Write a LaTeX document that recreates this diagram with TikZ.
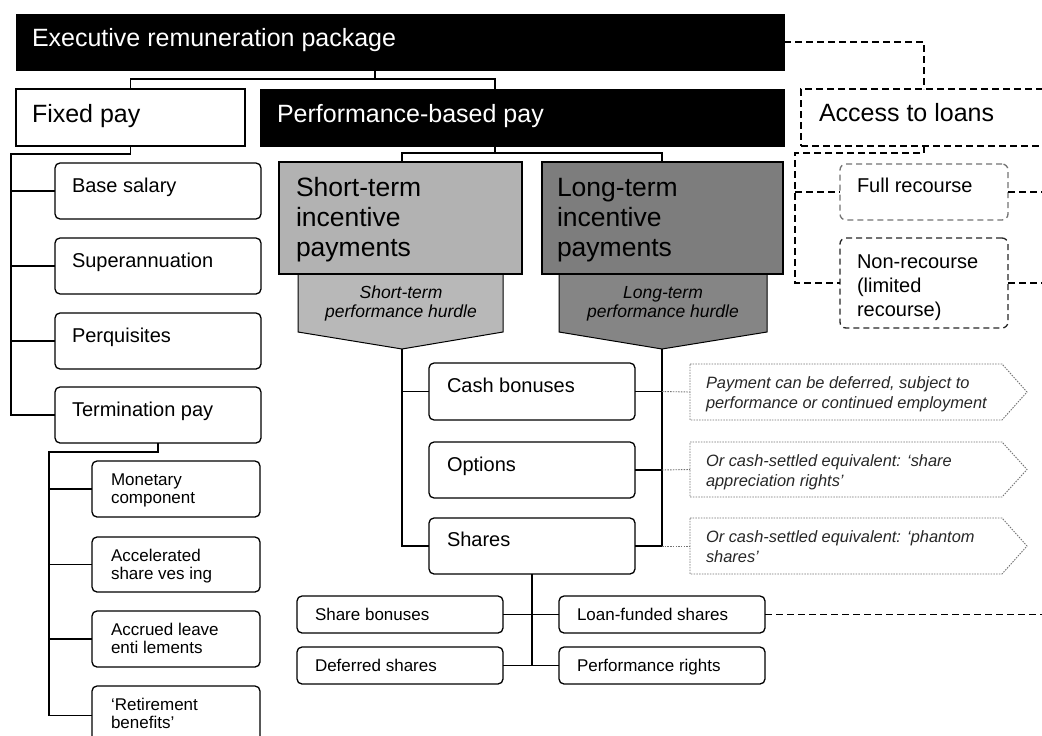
\documentclass[tikz,border=0pt]{standalone}
\usepackage{fontspec}
\setmainfont{Liberation Sans}
\usetikzlibrary{calc}
\definecolor{stgray}{HTML}{B2B2B2}
\definecolor{sthgray}{HTML}{B8B8B8}
\definecolor{ltgray}{HTML}{7D7D7D}
\definecolor{lthgray}{HTML}{858585}
\newcommand\ml[1]{\begin{tabular}[t]{@{}l@{}}#1\end{tabular}}
\newcommand\mcen[1]{\begin{tabular}[t]{@{}c@{}}#1\end{tabular}}
\newcommand\boxat[6]{\node[#1, minimum width={(#5)-(#3)}, minimum height={(#6)-(#4)}, anchor=north west] (#2) at (#3,#4) {};}
\tikzset{
  blk/.style={draw=black, fill=black, line width=1pt, inner sep=0, outer sep=0},
  wbox/.style={draw=black, fill=white, line width=1.3pt, inner sep=0, outer sep=0},
  rbox/.style={draw=black, fill=white, line width=1.3pt, rounded corners=5pt, inner sep=0, outer sep=0},
  dbox/.style={draw=black, line width=1.3pt, dash pattern=on 7pt off 4pt, inner sep=0, outer sep=0},
  frbox/.style={draw=black!55, line width=1.3pt, dash pattern=on 6pt off 4pt, rounded corners=6pt, inner sep=0, outer sep=0},
  nrbox/.style={draw=black!85, line width=1.3pt, dash pattern=on 6pt off 4pt, rounded corners=6pt, inner sep=0, outer sep=0},
  stbox/.style={draw=black, fill=stgray, line width=1.3pt, inner sep=0, outer sep=0},
  ltbox/.style={draw=black, fill=ltgray, line width=1.3pt, inner sep=0, outer sep=0},
  notebox/.style={inner sep=0, outer sep=0},
  noteline/.style={draw=black!55, line width=0.9pt, dash pattern=on 1.5pt off 1.2pt},
  conn/.style={line width=1.3pt, black},
  dconn/.style={line width=1.3pt, black, dash pattern=on 7pt off 4pt},
  dotc/.style={line width=0.9pt, black!55, dash pattern=on 1.5pt off 1.2pt},
  txt/.style={anchor=base west, inner sep=0, outer sep=0},
  bigf/.style={font=\fontsize{25}{30}\selectfont},
  hugef/.style={font=\fontsize{26.5}{30}\selectfont},
  medf/.style={font=\fontsize{20}{24}\selectfont},
  smf/.style={font=\fontsize{17}{18}\selectfont},
  notef/.style={font=\fontsize{16.4}{20}\selectfont\itshape, text=black!85},
  hurf/.style={font=\fontsize{17.5}{19}\selectfont\itshape},
}
\begin{document}
\begin{tikzpicture}[x=1pt,y=-1pt]
\useasboundingbox (0,0) rectangle (1042,736);
\clip (0,0) rectangle (1042,736);

% ---------- top row ----------
\boxat{blk}{exec}{16}{14}{784}{70}
\node[txt,bigf,text=white] (exec-t) at (32,46) {Executive remuneration package};
\boxat{wbox}{fixed}{16}{89}{245}{146}
\node[txt,bigf] (fixed-t) at (32,122) {Fixed pay};
\boxat{blk}{perf}{260}{89}{784}{146}
\node[txt,bigf,text=white] (perf-t) at (277,122) {Performance-based pay};
\boxat{dbox}{access}{801}{89}{1075}{146}
\node[txt,bigf] (access-t) at (819,121) {Access to loans};

\draw[conn] (375,0 |- exec.south) -- (375,79) -| (fixed.north);
\draw[conn] (375,79) -| (495,0 |- perf.north);

% ---------- fixed pay ----------
\boxat{rbox}{base}{55}{163}{261}{219}
\node[txt,medf] (base-t) at (72,192) {Base salary};
\boxat{rbox}{super}{55}{238}{261}{294}
\node[txt,medf] (super-t) at (72,267) {Superannuation};
\boxat{rbox}{perq}{55}{313}{261}{369}
\node[txt,medf] (perq-t) at (72,342) {Perquisites};
\boxat{rbox}{term}{55}{387}{261}{443}
\node[txt,medf] (term-t) at (72,416) {Termination pay};

\draw[conn] (fixed.south) |- (11,154) |- (term.west);
\draw[conn] (11,0 |- base.west) -- (base.west);
\draw[conn] (11,0 |- super.west) -- (super.west);
\draw[conn] (11,0 |- perq.west) -- (perq.west);

\boxat{rbox}{mon}{92}{461}{260}{517}
\node[txt,smf] (mon-t) at (111,485) {\ml{Monetary\\component}};
\boxat{rbox}{accel}{92}{537}{260}{592}
\node[txt,smf] (accel-t) at (111,561) {\ml{Accelerated\\share ves ing}};
\boxat{rbox}{accr}{92}{611}{260}{667}
\node[txt,smf] (accr-t) at (111,635) {\ml{Accrued leave\\enti lements}};
\boxat{rbox}{retire}{92}{686}{260}{745}
\node[txt,smf] (retire-t) at (111,710) {\ml{‘Retirement\\benefits’}};

\draw[conn] (term.south) |- (49,452) |- (retire.west);
\draw[conn] (49,0 |- mon.west) -- (mon.west);
\draw[conn] (49,0 |- accel.west) -- (accel.west);
\draw[conn] (49,0 |- accr.west) -- (accr.west);

% ---------- incentive payments ----------
\coordinate (sth-tip) at (402,349);
\coordinate (lth-tip) at (662,349);
\draw[line width=1pt, fill=sthgray] (298,274) -- (298,332) -- (sth-tip) -- (503,332) -- (503,274);
\draw[line width=1pt, fill=lthgray] (559,274) -- (559,332) -- (lth-tip) -- (767,332) -- (767,274);
\node[hurf, inner sep=0, anchor=base] (sth-t) at (401,298) {\mcen{Short-term\\performance hurdle}};
\node[hurf, inner sep=0, anchor=base] (lth-t) at (663,298) {\mcen{Long-term\\performance hurdle}};

\boxat{stbox}{st}{279}{162}{522}{274}
\node[txt,hugef] (st-t) at (296,196) {\ml{Short-term\\incentive\\payments}};
\boxat{ltbox}{lt}{542}{162}{783}{274}
\node[txt,hugef] (lt-t) at (557,196) {\ml{Long-term\\incentive\\payments}};

\draw[conn] (495,0 |- perf.south) |- (402,153) -- (402,0 |- st.north);
\draw[conn] (495,153) -| (662,0 |- lt.north);

% ---------- cash / options / shares ----------
\boxat{rbox}{cash}{429}{363}{635}{420}
\node[txt,medf] (cash-t) at (447,392) {Cash bonuses};
\boxat{rbox}{opt}{429}{442}{635}{498}
\node[txt,medf] (opt-t) at (447,471) {Options};
\boxat{rbox}{shares}{429}{518}{635}{574}
\node[txt,medf] (shares-t) at (447,546) {Shares};

\draw[conn] (sth-tip) |- (shares.west);
\draw[conn] (402,0 |- cash.west) -- (cash.west);
\draw[conn] (lth-tip) |- (shares.east);
\draw[conn] (662,0 |- cash.east) -- (cash.east);
\draw[conn] (662,0 |- opt.east) -- (opt.east);

% ---------- notes ----------
\boxat{notebox}{n1}{690}{364}{1002}{420}
\boxat{notebox}{n2}{690}{442}{1002}{497}
\boxat{notebox}{n3}{690}{518}{1002}{574}
\foreach \n in {n1,n2,n3}{
  \draw[noteline] (\n.north west) -- (\n.north east) -- ($(\n.east)+(25,0)$) -- (\n.south east) -- (\n.south west) -- cycle;
}
\node[txt,notef] (n1-t) at (706,388) {\ml{Payment can be deferred, subject to\\performance or continued employment}};
\node[txt,notef] (n2-t) at (706,466) {\ml{Or cash-settled equivalent: ‘share\\appreciation rights’}};
\node[txt,notef] (n3-t) at (706,542) {\ml{Or cash-settled equivalent: ‘phantom\\shares’}};
\draw[dotc] (662,0 |- cash.east) -- (n1.west);
\draw[dotc] (662,0 |- opt.east) -- (n2.west);
\draw[dotc] (662,0 |- shares.east) -- (n3.west);

% ---------- share types ----------
\boxat{rbox}{sbon}{297}{596}{503}{633}
\node[txt,smf] (sbon-t) at (315,620) {Share bonuses};
\boxat{rbox}{defs}{297}{647}{503}{684}
\node[txt,smf] (defs-t) at (315,671) {Deferred shares};
\boxat{rbox}{loanf}{559}{596}{765}{633}
\node[txt,smf] (loanf-t) at (577,620) {Loan-funded shares};
\boxat{rbox}{perfr}{559}{647}{765}{684}
\node[txt,smf] (perfr-t) at (577,671) {Performance rights};

\draw[conn] (shares.south) -- (shares.south |- defs.east);
\draw[conn] (sbon.east) -- (loanf.west);
\draw[conn] (defs.east) -- (perfr.west);

% ---------- loans ----------
\boxat{frbox}{fullr}{840}{164}{1008}{220}
\node[txt,medf] (fullr-t) at (857,192) {Full recourse};
\boxat{nrbox}{nonrec}{840}{238}{1008}{328}
\node[txt,medf] (nonrec-t) at (857,268) {\ml{Non-recourse\\(limited\\recourse)}};

\draw[dconn] (exec.east) -| (924,0 |- access.north);
\draw[dconn] (924,0 |- access.south) |- (795,153) |- (nonrec.west);
\draw[dconn] (795,0 |- fullr.west) -- (fullr.west);
\draw[dconn] (fullr.east) -- ++(60,0);
\draw[dconn] (nonrec.east) -- ++(60,0);
\draw[dconn] (loanf.east) -- ++(300,0);
\end{tikzpicture}
\end{document}
